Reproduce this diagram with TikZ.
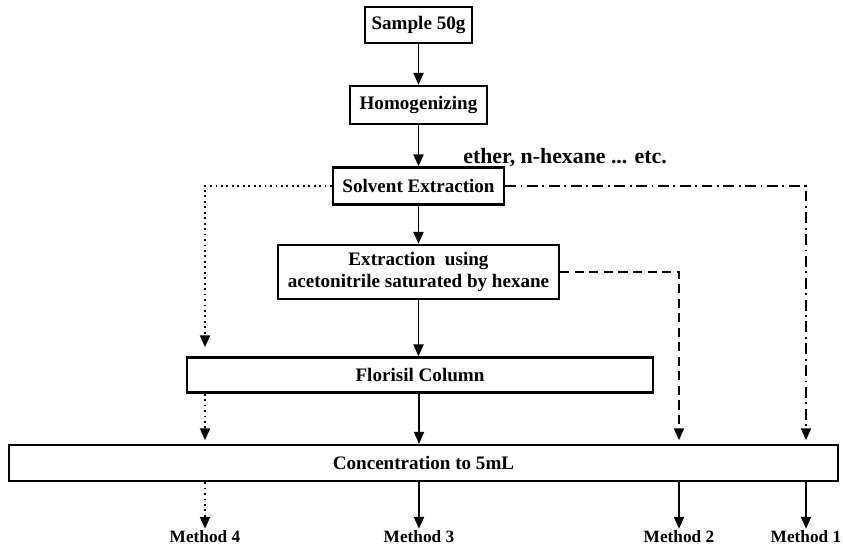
\documentclass[tikz,border=0pt]{standalone}
\usepackage{fontspec}
\setmainfont{Liberation Serif}
\usetikzlibrary{arrows.meta}
\begin{document}
\begin{tikzpicture}[x=0.55pt,y=-0.55pt,
    stepbox/.style={draw,line width=1.3pt,inner sep=0pt,align=center,
        font=\fontsize{10.5}{12.5}\selectfont\bfseries},
    flow/.style={line width=1pt,-{Triangle[length=6.5pt,width=5.5pt]}},
    lbl/.style={font=\fontsize{9.5}{11}\selectfont\bfseries,inner sep=1pt}]
    \useasboundingbox (0,0) rectangle (843,549);

    % 中间的处理步骤
    \node[stepbox,minimum width=58.9pt,minimum height=19.8pt] (sample) at (418.5,25) {Sample 50g};
    \node[stepbox,minimum width=75.4pt,minimum height=20.9pt] (homog) at (418.5,105) {Homogenizing};
    \node[stepbox,minimum width=94pt,minimum height=20.4pt] (solvent) at (418.5,186) {Solvent Extraction};
    \node[stepbox,minimum width=154.6pt,minimum height=29.7pt] (extract) at (418.5,272)
        {Extraction\ \ using\\acetonitrile saturated by hexane};
    \node[stepbox,minimum width=256.3pt,minimum height=19.3pt] (florisil) at (420,375) {Florisil Column};
    \node[stepbox,minimum width=456pt,minimum height=19.8pt] (conc) at (423.5,463) {Concentration to 5mL};

    % 溶剂说明
    \node[anchor=west,inner sep=0pt,font=\fontsize{12}{14}\selectfont\bfseries] (solvlbl) at (463,158)
        {ether, n-hexane ... etc.};

    % 方法标签
    \node[lbl] (m4) at (205,537) {Method 4};
    \node[lbl] (m3) at (419,537) {Method 3};
    \node[lbl] (m2) at (679,537) {Method 2};
    \node[lbl] (m1) at (806,537) {Method 1};

    % 实线箭头 (Method 3)
    \draw[flow] (sample) -- (homog);
    \draw[flow] (homog) -- (solvent);
    \draw[flow] (solvent) -- (extract);
    \draw[flow] (extract.south) -- (extract.south |- florisil.north);
    \draw[flow] (m3 |- florisil.south) -- (m3 |- conc.north);
    \draw[flow] (m3 |- conc.south) -- (m3.north);

    % 点线 (Method 4)
    \draw[flow,dotted,shorten >=5pt] (solvent.west) -| (m4 |- florisil.north);
    \draw[flow,dotted,shorten >=2pt] (m4 |- florisil.south) -- (m4 |- conc.north);
    \draw[flow,dotted] (m4 |- conc.south) -- (m4.north);

    % 虚线 (Method 2)
    \draw[flow,dash pattern=on 5pt off 3pt,shorten >=2pt] (extract.east) -| (m2 |- conc.north);
    \draw[flow] (m2 |- conc.south) -- (m2.north);

    % 点划线 (Method 1)
    \draw[flow,dash pattern=on 6pt off 2.5pt on 1pt off 2.5pt,shorten >=2pt] (solvent.east) -| (m1 |- conc.north);
    \draw[flow] (m1 |- conc.south) -- (m1.north);
\end{tikzpicture}
\end{document}
